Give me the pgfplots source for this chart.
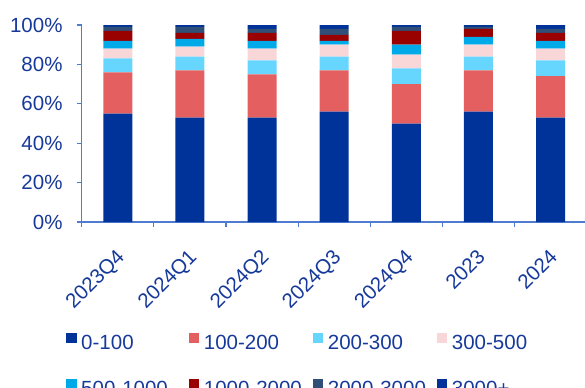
\documentclass[border=0pt]{standalone}
\usepackage{pgfplots}
\usepackage{pgfplotstable}
\pgfplotsset{compat=1.18}
\usepackage{fontspec}
\setmainfont{Liberation Sans}
\definecolor{cA}{RGB}{0,51,153}
\definecolor{cB}{RGB}{228,96,96}
\definecolor{cC}{RGB}{102,214,255}
\definecolor{cD}{RGB}{249,215,217}
\definecolor{cE}{RGB}{0,170,232}
\definecolor{cF}{RGB}{153,0,0}
\definecolor{cG}{RGB}{47,79,119}
\definecolor{cH}{RGB}{0,51,153}
\definecolor{txt}{RGB}{22,57,154}
\definecolor{axc}{RGB}{79,123,208}
\pgfplotstableread{
x a b c d e f g h
0 55 21 7 5 4 5 2 1
1 53 24 7 5 4 3 3 1
2 53 22 7 6 4 4 2 2
3 56 21 7 6 2 3 3 2
4 50 20 8 7 5 7 2 1
5 56 21 7 6 4 4 1 1
6 53 21 8 6 4 4 2 2
}\datatable
\begin{document}
\begin{tikzpicture}
\useasboundingbox (0,0) rectangle (585bp,-388bp);
\begin{axis}[
  at={(81.7bp,-222bp)}, anchor=south west,
  scale only axis, width=505bp, height=197bp,
  ybar stacked, bar width=29bp,
  xmin=-0.5, xmax=6.5, ymin=0, ymax=100,
  axis lines*=left,
  axis line style={draw=axc, line width=1.1bp},
  every tick/.style={draw=axc, line width=1.1bp},
  tick align=outside,
  major tick length=5bp, minor tick length=5bp,
  xtick={0,...,6},
  xticklabels={2023Q4,2024Q1,2024Q2,2024Q3,2024Q4,2023,2024},
  major x tick style={draw=none},
  minor xtick={-0.5,0.5,1.5,2.5,3.5,4.5,5.5},
  ytick={0,20,40,60,80,100},
  yticklabels={0\%,20\%,40\%,60\%,80\%,100\%},
  tick label style={font=\fontsize{20.5bp}{24bp}\selectfont, text=txt},
  xticklabel style={rotate=45, anchor=north east, inner sep=2bp, xshift=-14.4bp, yshift=-11.1bp},
  yticklabel style={inner sep=2bp, xshift=-12bp},
  legend columns=4,
  legend cell align=left,
  legend style={draw=none, fill=none, at={(-0.031,-0.56)}, anchor=north west,
    font=\fontsize{20.5bp}{24bp}\selectfont, text=txt, inner sep=0pt,
    nodes={inner sep=0pt, text height=15bp, text depth=4bp},
    row sep=26bp,
    /tikz/column 1/.style={column sep=4.5bp},
    /tikz/column 2/.style={column sep=21bp},
    /tikz/column 3/.style={column sep=4.5bp},
    /tikz/column 4/.style={column sep=11bp},
    /tikz/column 5/.style={column sep=4.5bp},
    /tikz/column 6/.style={column sep=11bp},
    /tikz/column 7/.style={column sep=4.5bp}},
  legend image code/.code={\fill (0bp,0.5bp) rectangle (10.5bp,11bp);},
]
\addplot[fill=cA, draw=none] table[x=x,y=a]{\datatable};
\addplot[fill=cB, draw=none] table[x=x,y=b]{\datatable};
\addplot[fill=cC, draw=none] table[x=x,y=c]{\datatable};
\addplot[fill=cD, draw=none] table[x=x,y=d]{\datatable};
\addplot[fill=cE, draw=none] table[x=x,y=e]{\datatable};
\addplot[fill=cF, draw=none] table[x=x,y=f]{\datatable};
\addplot[fill=cG, draw=none] table[x=x,y=g]{\datatable};
\addplot[fill=cH, draw=none] table[x=x,y=h]{\datatable};
\legend{0-100,100-200,200-300,300-500,500-1000,1000-2000,2000-3000,3000+}
\end{axis}
\end{tikzpicture}
\end{document}
